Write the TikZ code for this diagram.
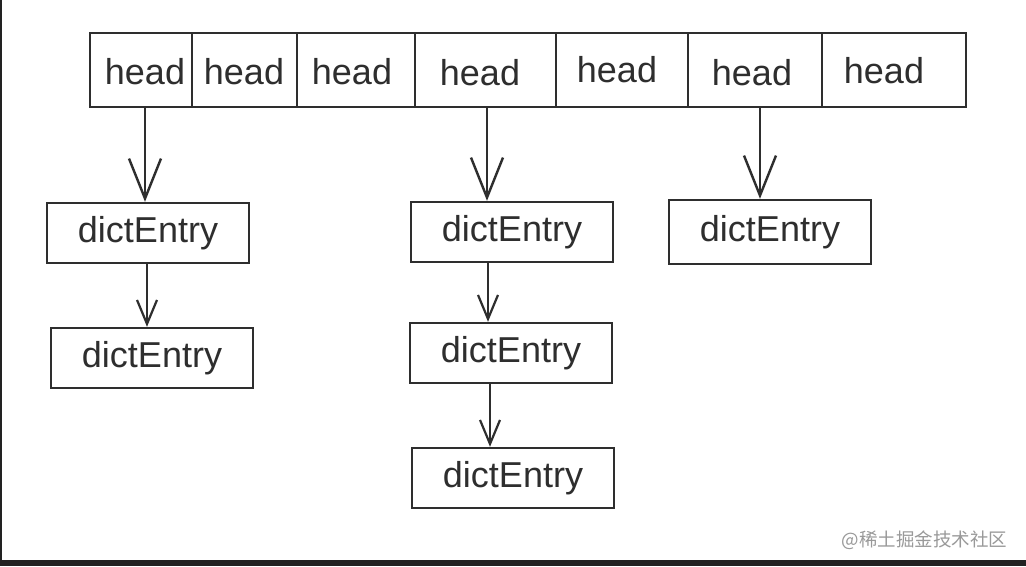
\documentclass[tikz,border=0pt]{standalone}
\usepackage{fontspec}
\setmainfont{Liberation Sans}
\newfontfamily\cjk{Noto Sans CJK SC}
\usetikzlibrary{arrows.meta}
\definecolor{ink}{HTML}{2E2E2E}
\definecolor{barc}{HTML}{222222}
\begin{document}
\begin{tikzpicture}[x=1pt,y=-1pt,
  ink line/.style={draw=ink,line width=2.4pt},
  entrybox/.style={ink line,rectangle,minimum width=202pt,minimum height=60pt,inner sep=0pt,font=\fontsize{36}{36}\selectfont,text=ink},
  headtext/.style={inner sep=0pt,font=\fontsize{36}{36}\selectfont,text=ink},
  bigarrow/.style={ink line,-{Straight Barb[length=40pt,width=32pt,line width=2.4pt]}},
  smallarrow/.style={ink line,-{Straight Barb[length=24pt,width=20pt,line width=2.2pt]}}]
\useasboundingbox (0,0) rectangle (1026,566);
\fill[white] (0,0) rectangle (1026,566);
\fill[barc] (0,560) rectangle (1026,566);
\fill[barc] (0,0) rectangle (1.5,560);
% top array
\node[ink line,rectangle,minimum width=876pt,minimum height=74pt,inner sep=0pt] (arr) at (528,70) {};
\foreach \x in {192,297,415,556,688,822} \draw[ink line] (\x,33) -- (\x,107);
\node[headtext] (h1) at (145,72) {head};
\node[headtext] (h2) at (244,72) {head};
\node[headtext] (h3) at (352,72) {head};
\node[headtext] (h4) at (480,73) {head};
\node[headtext] (h5) at (617,70) {head};
\node[headtext] (h6) at (752,73) {head};
\node[headtext] (h7) at (884,71) {head};
% entries
\node[entrybox] (a1) at (148,233) {dictEntry};
\node[entrybox] (a2) at (152,358) {dictEntry};
\node[entrybox] (b1) at (512,232) {dictEntry};
\node[entrybox] (b2) at (511,353) {dictEntry};
\node[entrybox] (b3) at (513,478) {dictEntry};
\node[entrybox,minimum height=64pt] (c1) at (770,232) {dictEntry};
% connectors
\coordinate (s1) at (145,107);
\coordinate (s4) at (487,107);
\coordinate (s6) at (760,107);
\draw[bigarrow] (s1) -- (s1 |- a1.north);
\draw[bigarrow] (s4) -- (s4 |- b1.north);
\draw[bigarrow] (s6) -- (s6 |- c1.north);
\draw[smallarrow] ([xshift=-1pt]a1.south) -- ([xshift=-5pt]a2.north);
\draw[smallarrow] ([xshift=-24pt]b1.south) -- ([xshift=-23pt]b2.north);
\draw[smallarrow] ([xshift=-21pt]b2.south) -- ([xshift=-23pt]b3.north);
% watermark
\node[text=gray!80,font=\cjk\fontsize{18.5}{18.5}\selectfont,anchor=east] (wm) at (1011,540) {@稀土掘金技术社区};
\end{tikzpicture}
\end{document}
